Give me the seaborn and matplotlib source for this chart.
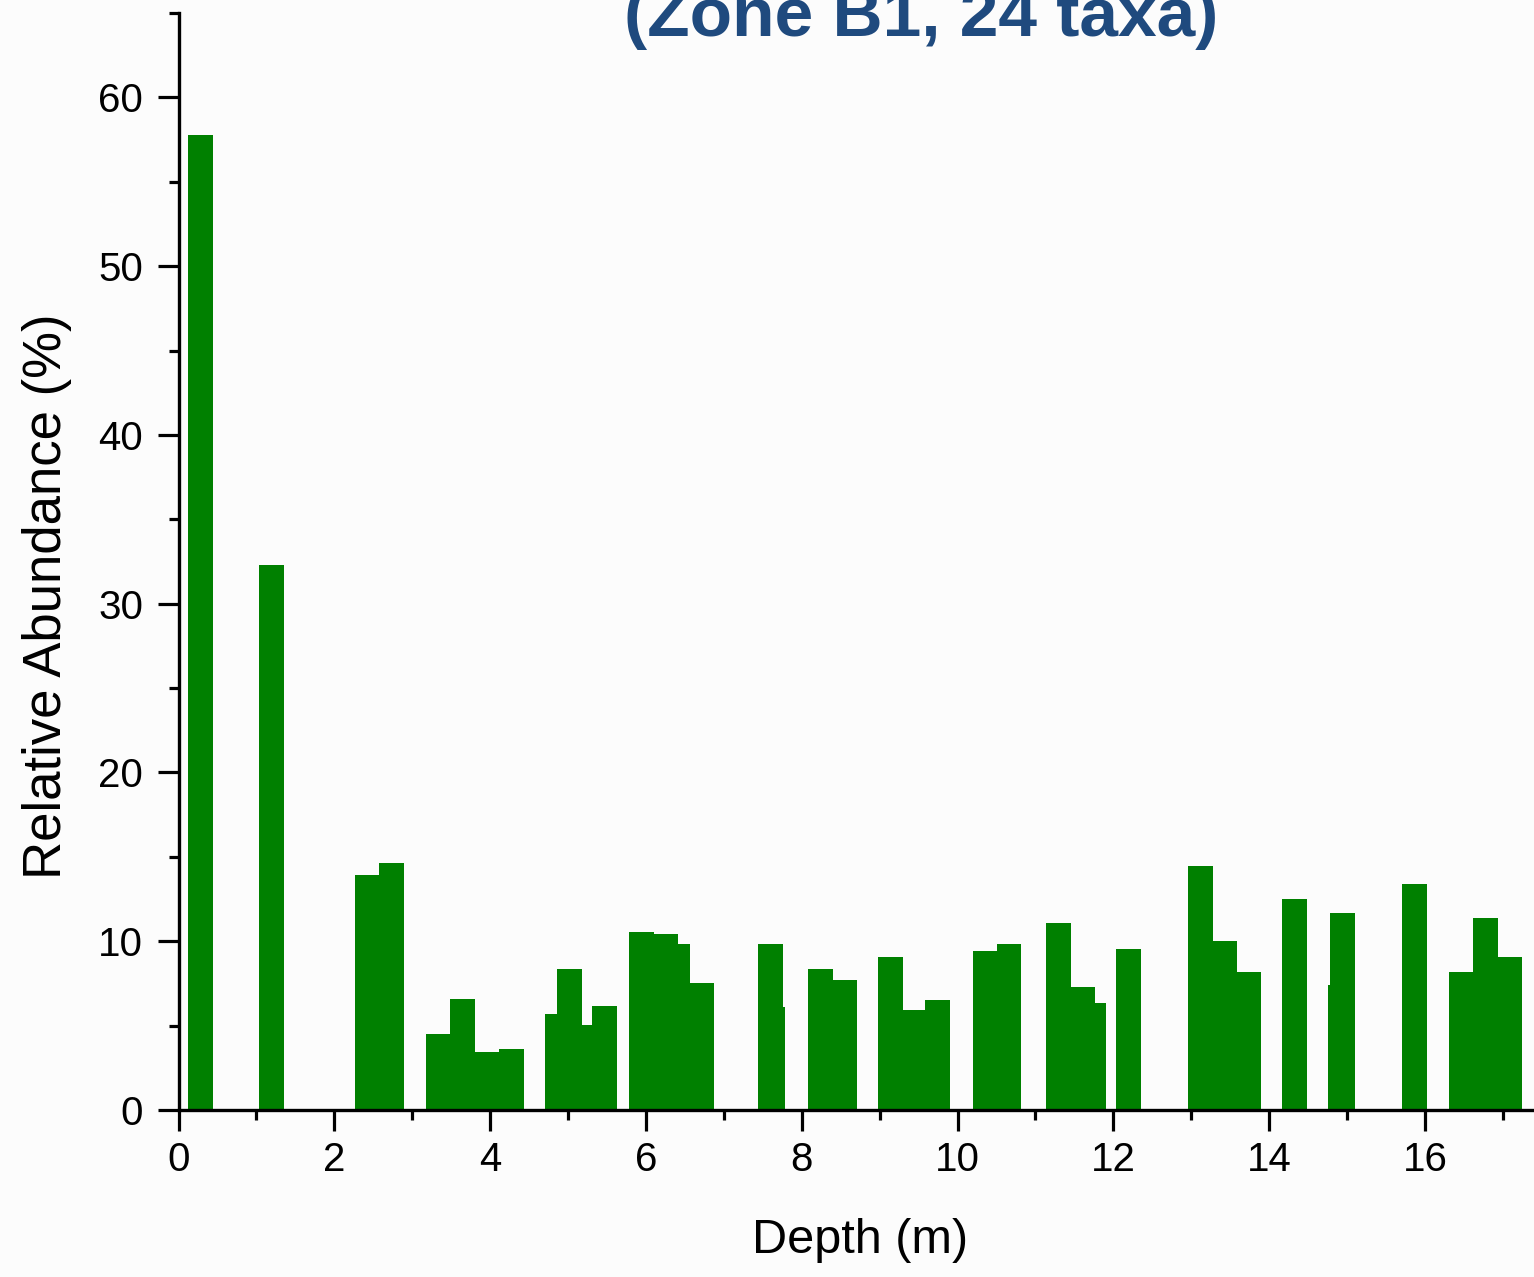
import numpy as np
import pandas as pd
import matplotlib
matplotlib.use("Agg")
import matplotlib.pyplot as plt
from matplotlib.ticker import MultipleLocator
import seaborn as sns

# Sample depths (m) and relative abundance (%) of the zone B1 assemblage
depth_m = [0.28, 1.19, 2.43, 2.73, 3.34, 3.65, 3.965, 4.27, 4.87, 5.02, 5.33, 5.47,
           5.94, 6.25, 6.41, 6.71, 7.60, 7.63, 8.24, 8.55, 9.14, 9.455, 9.74,
           10.36, 10.66, 11.29, 11.60, 11.75, 12.20, 13.12, 13.43, 13.74, 14.32,
           14.92, 14.94, 15.86, 16.47, 16.775, 17.08]
abundance = [57.8, 32.3, 13.95, 14.65, 4.5, 6.6, 3.45, 3.6, 5.7, 8.35, 5.05, 6.15,
             10.55, 10.45, 9.85, 7.5, 9.82, 6.1, 8.35, 7.7, 9.05, 5.95, 6.5,
             9.4, 9.82, 11.1, 7.3, 6.35, 9.55, 14.45, 10.0, 8.15, 12.5,
             7.4, 11.7, 13.4, 8.2, 11.35, 9.05]
# samples plotted underneath their neighbours
layer = ["front"] * len(depth_m)
for d in (7.63, 11.75, 14.92):
    layer[depth_m.index(d)] = "back"

x_ticks = list(range(0, 17, 2))
y_ticks = list(range(0, 61, 10))

GREEN = "#008000"
TITLE_BLUE = "#1F4A7E"
BAR_W = 0.32
W, H = 1534, 1277

sns.set_style("ticks")
plt.rcParams["font.family"] = ["Liberation Sans", "DejaVu Sans"]

df = pd.DataFrame({"depth": depth_m, "abundance": abundance, "layer": layer})

fig = plt.figure(figsize=(W / 100, H / 100), dpi=100, facecolor="#fcfcfc")
ax = fig.add_axes([178.6 / W, 167 / H, (W - 178.6) / W, 1097 / H])
ax.set_facecolor("#fcfcfc")

min_gap = np.diff(np.unique(df["depth"])).min()
sns.barplot(data=df, x="depth", y="abundance", hue="layer",
            hue_order=["back", "front"],
            palette={"back": GREEN, "front": GREEN},
            native_scale=True, dodge=False, width=BAR_W / min_gap,
            saturation=1, errorbar=None, legend=False,
            edgecolor="none", linewidth=0, ax=ax)

ax.set_xlim(0, 17.4)
ax.set_ylim(0, 65)
ax.set_xticks(x_ticks)
ax.set_yticks(y_ticks)
ax.xaxis.set_minor_locator(MultipleLocator(1))
ax.yaxis.set_minor_locator(MultipleLocator(5))

for side in ("top", "right"):
    ax.spines[side].set_visible(False)
for side in ("left", "bottom"):
    ax.spines[side].set_linewidth(2.4)
    ax.spines[side].set_color("black")

ax.tick_params(which="major", direction="out", length=15, width=2.3,
               labelsize=29, colors="black")
ax.tick_params(which="minor", direction="out", length=7.5, width=2.3,
               colors="black")
ax.tick_params(axis="x", which="major", pad=7)
ax.tick_params(axis="y", which="major", pad=10.5)

ax.set_xlabel("Depth (m)", fontsize=35, color="black")
ax.set_ylabel("Relative Abundance (%)", fontsize=38, color="black")
ax.xaxis.set_label_coords(0.5027, -0.098)
ax.yaxis.set_label_coords(-0.079, 0.4686)

fig.text(921 / W, 1 - 36 / H, "(Zone B1, 24 taxa)", ha="center", va="baseline",
         fontsize=50, fontweight="bold", color=TITLE_BLUE)

fig.savefig("out.png", dpi=100, facecolor=fig.get_facecolor())
